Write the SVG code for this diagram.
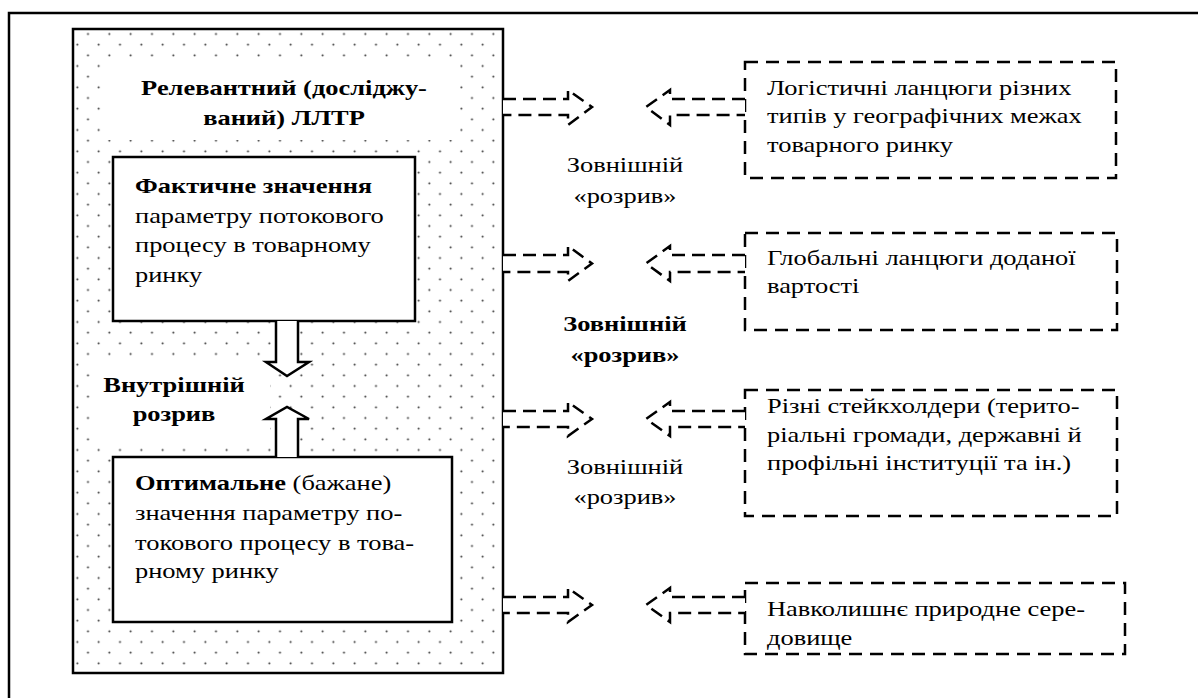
<svg xmlns="http://www.w3.org/2000/svg" width="1198" height="698" viewBox="0 0 1198 698">
<style>
.frame{fill:none;stroke:#000;stroke-width:2.5}
.solid{fill:#fff;stroke:#000;stroke-width:2.5}
.dbox{fill:#fff;stroke:#000;stroke-width:2.5;stroke-dasharray:13 8}
.darrow{fill:#fff;stroke:#000;stroke-width:2.5;stroke-dasharray:13 7}
.t{font-family:"Liberation Serif","Times New Roman",serif;font-size:21.5px;fill:#000}
.b{font-weight:bold}
.m{text-anchor:middle}
</style>
<defs>
<pattern id="dots" patternUnits="userSpaceOnUse" x="82.67" y="28.67" width="21.333" height="21.333">
<circle cx="5.333" cy="5.333" r="1" fill="#333"/>
<circle cx="16" cy="16" r="1" fill="#333"/>
</pattern>
</defs>
<rect width="1198" height="698" fill="#fff"/>
<path class="frame" d="M9 698 V13 H1198"/>

<g id="relevant">
<rect x="73" y="29" width="430" height="644" fill="url(#dots)" stroke="#000" stroke-width="2.5"/>
<rect x="102" y="61" width="358" height="79" fill="#fff"/>
<g transform="translate(284 0) scale(1.23 1)">
<text class="t b m" x="0" y="95">Релевантний (досліджу-</text>
<text class="t b m" x="0" y="125">ваний) ЛЛТР</text>
</g>
</g>

<g id="fact">
<rect class="solid" x="113" y="157" width="302" height="164"/>
<g transform="translate(135 0) scale(1.23 1)">
<text class="t b" x="0" y="193">Фактичне значення</text>
<text class="t" x="0" y="223">параметру потокового</text>
<text class="t" x="0" y="252">процесу в товарному</text>
<text class="t" x="0" y="282">ринку</text>
</g>
</g>

<g id="internal">
<rect x="97" y="356" width="173" height="86" fill="#fff"/>
<g transform="translate(174 0) scale(1.23 1)">
<text class="t b m" x="0" y="392">Внутрішній</text>
<text class="t b m" x="0" y="421">розрив</text>
</g>
</g>

<g id="optimal">
<rect class="solid" x="113" y="457" width="339" height="165"/>
<g transform="translate(135 0) scale(1.23 1)">
<text class="t" x="0" y="490"><tspan class="b">Оптимальне</tspan> (бажане)</text>
<text class="t" x="0" y="520">значення параметру по-</text>
<text class="t" x="0" y="550">токового процесу в това-</text>
<text class="t" x="0" y="578">рному ринку</text>
</g>
</g>

<g id="chains">
<rect class="dbox" x="745" y="62" width="371" height="116"/>
<g transform="translate(767 0) scale(1.23 1)">
<text class="t" x="0" y="95">Логістичні ланцюги різних</text>
<text class="t" x="0" y="123">типів у географічних межах</text>
<text class="t" x="0" y="152">товарного ринку</text>
</g>
</g>

<g id="global">
<rect class="dbox" x="745" y="233" width="372" height="97"/>
<g transform="translate(767 0) scale(1.23 1)">
<text class="t" x="0" y="265">Глобальні ланцюги доданої</text>
<text class="t" x="0" y="293">вартості</text>
</g>
</g>

<g id="stakeholders">
<rect class="dbox" x="745" y="390" width="372" height="126"/>
<g transform="translate(767 0) scale(1.23 1)">
<text class="t" x="0" y="413">Різні стейкхолдери (терито-</text>
<text class="t" x="0" y="442">ріальні громади, державні й</text>
<text class="t" x="0" y="470">профільні інституції та ін.)</text>
</g>
</g>

<g id="environment">
<rect class="dbox" x="745" y="583" width="380" height="71"/>
<g transform="translate(767 0) scale(1.23 1)">
<text class="t" x="0" y="616">Навколишнє природне сере-</text>
<text class="t" x="0" y="645">довище</text>
</g>
</g>

<g id="labels">
<g transform="translate(625 0) scale(1.23 1)">
<text class="t m" x="0" y="172">Зовнішній</text>
<text class="t m" x="0" y="203">«розрив»</text>
<text class="t b m" x="0" y="331">Зовнішній</text>
<text class="t b m" x="0" y="362">«розрив»</text>
<text class="t m" x="0" y="474">Зовнішній</text>
<text class="t m" x="0" y="504">«розрив»</text>
</g>
</g>

<g id="connectors">
<path class="solid" d="M276 321 V362 H266 L287 376 L309 362 H298 V321"/>
<path class="solid" d="M276 457 V419 H266 L287 407 L309 419 H298 V457"/>
<path class="darrow" d="M503 99 H568 V90 L592 107 L568 125 V115 H503"/>
<path class="darrow" d="M745 99 H670 V90 L646 107 L670 125 V115 H745"/>
<path class="darrow" d="M503 255 H568 V246 L592 263.5 L568 281 V272 H503"/>
<path class="darrow" d="M745 255 H670 V246 L646 263.5 L670 281 V272 H745"/>
<path class="darrow" d="M503 411 H568 V402 L592 419 L568 436 V427 H503"/>
<path class="darrow" d="M745 411 H670 V402 L646 419 L670 436 V427 H745"/>
<path class="darrow" d="M503 597 H568 V588 L592 605 L568 622 V613 H503"/>
<path class="darrow" d="M745 597 H670 V588 L646 605 L670 622 V613 H745"/>
</g>
</svg>
